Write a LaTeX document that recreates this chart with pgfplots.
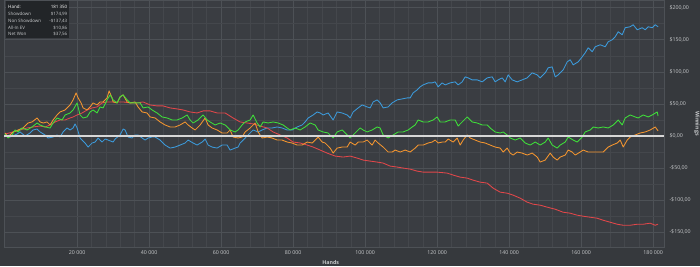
\documentclass[border=0pt]{standalone}
\usepackage{pgfplots}
\pgfplotsset{compat=1.18}
\usepackage{fontspec}
\setmainfont{Open Sans}
\definecolor{bgc}{HTML}{36393D}
\definecolor{plotc}{HTML}{3A3D42}
\definecolor{gridmaj}{HTML}{4D5156}
\definecolor{gridmin}{HTML}{44474C}
\definecolor{txt}{HTML}{C8CACC}
\definecolor{sdblue}{HTML}{3C9BDC}
\definecolor{nsdred}{HTML}{E2474A}
\definecolor{evorange}{HTML}{F5962F}
\definecolor{netgreen}{HTML}{3FE03A}
\definecolor{boxc}{HTML}{222528}
\begin{document}
\begin{tikzpicture}[x=1bp,y=1bp]
\fill[bgc] (0,0) rectangle (700,266);
\path[use as bounding box] (0,0) rectangle (700,266);
\begin{axis}[
  at={(4bp,19bp)}, anchor=south west,
  scale only axis, width=660bp, height=247bp,
  xmin=-0.3, xmax=183, ymin=-173, ymax=212,
  axis background/.style={fill=plotc},
  axis line style={gridmaj},
  grid=both,
  major grid style={gridmaj, line width=0.6bp},
  minor grid style={gridmin, line width=0.5bp},
  xtick={20,40,60,80,100,120,140,160,180},
  xticklabels={20 000,40 000,60 000,80 000,100 000,120 000,140 000,160 000,180 000},
  minor x tick num=4,
  ytick={-150,-100,-50,0,50,100,150,200},
  yticklabels={{-\$150,00},{-\$100,00},{-\$50,00},{\$0,00},{\$50,00},{\$100,00},{\$150,00},{\$200,00}},
  minor y tick num=1,
  yticklabel pos=right,
  tick style={draw=none},
  ticklabel style={font=\fontsize{5.3}{6}\selectfont, text=txt},
  yticklabel style={xshift=2bp},
  xlabel={Hands}, ylabel={Winnings},
  label style={font=\fontsize{5.3}{6}\selectfont\bfseries, text=txt},
  xlabel style={at={(axis description cs:0.495,0)}, anchor=center, yshift=-16bp},
  ylabel style={at={(axis description cs:1.05,0.5)}, anchor=center, rotate=180},
  clip=true,
]
% Showdown (blue)
\addplot[sdblue, line width=0.85bp, line join=round] coordinates {
(0,1.6) (1.39,-1.6) (3.33,3.1) (4.17,6.3) (5.56,0) (6.94,4.7) (7.78,9.4) (8.89,10.9) (9.72,6.3) (11.11,1.6)
(11.94,-3.1) (13.33,-1.6) (14.44,1.6) (15.28,-1.6) (16.11,6.3) (17.22,12.5) (18.06,9.4) (18.89,12.5) (19.44,18.8) (20.0,12.5)
(20.83,-3.1) (22.22,-10.9) (23.06,-17.2) (24.17,-10.9) (25.0,-9.4) (25.83,-3.1) (26.94,-9.4) (27.78,-4.7) (28.61,-6.3) (30.0,-9.4)
(30.56,-4.7) (31.94,1.6) (32.78,10.9) (33.33,9.4) (34.17,-1.6) (35.28,-3.1) (36.11,1.6) (36.94,1.6) (38.06,-3.1) (38.89,-6.3)
(39.72,-3.1) (40.83,-1.6) (41.67,-1.6) (43.06,-6.3) (44.44,-14.1) (45.83,-18.8) (47.22,-17.2) (48.61,-14.1) (50.0,-10.9) (50.83,-6.3)
(52.22,-10.9) (53.33,-14.1) (54.72,-9.4) (55.56,-4.7) (56.39,-14.1) (57.5,-17.2) (58.89,-18.8) (60.28,-14.1) (61.67,-14.1) (62.5,-21.9)
(63.89,-18.8) (64.72,-17.2) (65.28,-10.9) (66.11,-6.3) (67.22,0) (68.06,4.7) (68.89,9.4) (70.28,6.3) (71.39,9.4) (72.78,12.5)
(74.17,12.5) (75.56,14.1) (76.94,12.5) (78.33,9.4) (79.72,9.4) (81.11,14.1) (82.5,17.2) (83.33,21.9) (84.17,28.1) (85.56,32.8)
(86.67,37.5) (87.5,35.9) (88.33,32.8) (89.72,35.9) (91.11,25) (92.22,37.5) (93.61,35.9) (95.0,32.8) (95.83,28.1) (96.67,37.5)
(98.06,43.8) (99.17,48.4) (100.56,45.3) (101.39,43.8) (102.22,53.1) (103.33,56.3) (104.17,51.6) (105.0,43.8) (106.39,45.3) (107.5,51.6)
(108.89,56.3) (110.28,57.8) (111.67,59.4) (112.5,59.4) (113.33,67.2) (114.44,71.9) (115.28,76.6) (116.11,79.7) (117.5,82.8) (118.61,82.8)
(119.44,84.4) (120.28,76.6) (121.39,82.8) (122.22,79.7) (123.61,82.8) (125.0,84.4) (125.83,79.7) (126.94,84.4) (127.78,92.2) (128.61,90.6)
(129.72,87.5) (131.11,87.5) (132.5,84.4) (133.89,90.6) (135.28,92.2) (136.11,84.4) (136.94,87.5) (138.06,90.6) (138.89,84.4) (139.72,95.3)
(140.83,87.5) (142.22,84.4) (143.61,87.5) (145.0,90.6) (146.39,98.4) (147.78,95.3) (148.61,90.6) (150.0,98.4) (150.83,106.3) (151.94,107.8)
(152.78,92.2) (153.61,95.3) (155.0,103.1) (156.11,115.6) (156.94,118.8) (157.78,110.9) (159.17,115.6) (160.28,123.4) (161.11,129.7) (161.94,137.5)
(163.06,131.3) (163.89,139.1) (165.28,142.2) (166.67,139.1) (167.5,146.9) (168.61,150) (169.44,154.7) (170.28,162.5) (171.39,157.8) (172.22,168.8)
(173.61,170.3) (174.44,173.4) (175.56,165.6) (176.94,168.8) (177.78,165.6) (178.61,170.3) (179.72,168.8) (180.56,173.4) (181.35,170.3)
};
% Non Showdown (red)
\addplot[nsdred, line width=0.85bp, line join=round] coordinates {
(0,3.1) (2.22,6.3) (4.17,9.4) (6.11,12.5) (7.78,14.1) (9.72,15.6) (11.11,14.1) (12.5,17.2) (13.89,21.9) (15.28,25)
(16.67,25) (18.06,28.1) (18.89,29.7) (20.0,32.8) (21.39,35.9) (22.78,40.6) (24.17,43.8) (25.56,45.3) (26.94,51.6) (28.33,53.1)
(31.11,53.1) (32.78,53.1) (34.72,51.6) (36.67,51.6) (38.33,53.1) (40.28,48.4) (42.22,46.9) (43.89,46.9) (45.83,43.8) (47.78,42.2)
(49.44,40.6) (51.39,37.5) (53.33,35.9) (55.0,39.1) (56.94,39.1) (58.89,35.9) (61.11,35.9) (63.33,28.1) (65.28,21.9) (67.22,20.3)
(68.89,18.8) (70.83,15.6) (72.78,12.5) (74.44,6.3) (76.39,1.6) (78.33,-3.1) (80.0,-9.4) (81.94,-10.9) (83.89,-14.1) (85.56,-17.2)
(87.5,-21.9) (89.44,-26.6) (91.67,-31.3) (93.89,-32.8) (95.83,-31.3) (97.78,-34.4) (99.44,-37.5) (101.39,-39.1) (103.33,-40.6) (105.0,-42.2)
(106.94,-46.9) (108.89,-48.4) (110.56,-50) (112.5,-51.6) (114.44,-54.7) (116.11,-56.3) (118.06,-56.3) (120.0,-56.3) (122.78,-57.8) (124.44,-60.9)
(126.39,-64.1) (128.33,-65.6) (130.0,-68.8) (131.94,-71.9) (133.89,-73.4) (135.56,-81.3) (137.5,-87.5) (139.44,-89.1) (141.11,-92.2) (143.06,-96.9)
(145.0,-103.1) (146.67,-106.3) (148.61,-107.8) (150.56,-110.9) (152.78,-114.1) (155.0,-118.8) (156.94,-120.3) (158.89,-123.4) (160.56,-125) (162.5,-126.6)
(164.44,-128.1) (166.11,-131.3) (168.06,-134.4) (170.0,-137.5) (171.67,-139.1) (173.61,-139.1) (175.56,-137.5) (177.22,-137.5) (179.17,-135.9) (180.56,-139.1)
(181.35,-137.4)
};
% All-in EV (orange)
\addplot[evorange, line width=0.85bp, line join=round] coordinates {
(0,4.7) (0.83,-1.6) (2.22,6.3) (3.61,9.4) (5.0,12.5) (6.39,20.3) (7.5,21.9) (8.89,28.1) (9.72,21.9) (10.56,20.3)
(11.67,21.9) (12.5,17.2) (13.33,25) (14.44,32.8) (15.28,37.5) (16.67,40.6) (18.06,48.4) (18.89,56.3) (19.72,67.2) (20.28,59.4)
(21.11,51.6) (21.67,43.8) (22.78,40.6) (23.61,45.3) (24.44,51.6) (25.56,48.4) (26.39,53.1) (27.22,53.1) (28.33,59.4) (28.89,70.3)
(29.72,59.4) (30.0,53.1) (31.11,51.6) (31.94,60.9) (32.78,64.1) (33.89,53.1) (34.72,51.6) (36.11,53.1) (36.94,45.3) (38.06,37.5)
(39.44,35.9) (40.28,29.7) (41.67,28.1) (43.06,21.9) (44.44,17.2) (45.83,14.1) (47.22,14.1) (48.61,17.2) (50.0,21.9) (50.83,17.2)
(51.94,12.5) (52.78,9.4) (54.17,17.2) (55.56,28.1) (56.39,17.2) (57.5,12.5) (58.89,9.4) (60.28,4.7) (61.67,4.7) (62.5,9.4)
(63.33,-1.6) (64.72,-3.1) (65.83,-1.6) (66.67,6.3) (68.06,12.5) (69.44,20.3) (70.28,6.3) (71.39,-3.1) (72.78,-1.6) (74.17,-3.1)
(75.56,-6.3) (76.94,-6.3) (78.33,-9.4) (79.72,-10.9) (81.11,-14.1) (82.5,-14.1) (83.89,-9.4) (85.28,-10.9) (86.11,-6.3) (86.94,-1.6)
(88.06,-9.4) (88.89,-10.9) (90.28,-18.8) (91.11,-26.6) (92.22,-18.8) (93.61,-17.2) (95.0,-17.2) (95.83,-9.4) (97.22,-14.1) (98.06,-9.4)
(99.44,-9.4) (100.56,-6.3) (101.94,-14.1) (102.78,-6.3) (103.61,-10.9) (105.0,-17.2) (106.39,-25) (107.5,-25) (108.33,-21.9) (109.72,-25)
(111.11,-21.9) (112.5,-25) (113.89,-18.8) (114.72,-14.1) (116.11,-14.1) (117.5,-10.9) (118.61,-9.4) (119.44,-6.3) (120.28,-10.9) (121.39,-9.4)
(122.22,-9.4) (123.06,-4.7) (124.44,-9.4) (125.56,-3.1) (126.39,-14.1) (127.22,-6.3) (128.33,1.6) (129.17,-3.1) (130.56,-6.3) (131.94,-9.4)
(133.33,-10.9) (134.72,-14.1) (136.11,-17.2) (137.5,-18.8) (138.33,-25) (139.44,-18.8) (140.28,-26.6) (141.11,-29.7) (142.22,-25) (143.61,-26.6)
(145.0,-29.7) (146.39,-26.6) (147.78,-32.8) (148.61,-40.6) (150.0,-37.5) (151.39,-26.6) (152.22,-32.8) (153.33,-37.5) (154.17,-32.8) (155.56,-29.7)
(156.39,-21.9) (157.5,-25) (158.33,-29.7) (159.72,-25) (160.56,-21.9) (161.94,-25) (163.33,-25) (164.72,-25) (166.11,-25) (167.5,-17.2)
(168.61,-14.1) (170.0,-10.9) (170.83,-6.3) (171.67,-17.2) (172.78,-6.3) (173.61,-1.6) (175.0,1.6) (176.39,4.7) (177.78,6.3) (179.17,9.4)
(180.56,14.1) (181.35,8.0)
};
% Net Won (green)
\addplot[netgreen, line width=0.85bp, line join=round] coordinates {
(0,3.1) (0.83,-3.1) (1.94,1.6) (2.78,9.4) (3.61,6.3) (4.72,12.5) (6.11,9.4) (7.5,14.1) (8.89,20.3) (9.72,17.2)
(11.11,14.1) (12.5,12.5) (13.33,20.3) (14.44,28.1) (15.83,25) (16.67,32.8) (18.06,35.9) (18.89,40.6) (20.0,51.6) (20.83,32.8)
(21.67,28.1) (22.78,29.7) (23.61,37.5) (24.44,40.6) (25.56,35.9) (26.39,45.3) (27.22,43.8) (28.33,56.3) (29.17,64.1) (30.0,56.3)
(31.11,51.6) (31.94,60.9) (32.78,64.1) (33.89,56.3) (34.72,51.6) (36.11,51.6) (37.5,51.6) (38.33,43.8) (39.72,45.3) (40.83,40.6)
(42.22,35.9) (43.61,29.7) (45.0,28.1) (46.39,25) (47.78,25) (49.17,28.1) (50.56,32.8) (51.39,25) (52.22,20.3) (53.61,25)
(55.0,32.8) (56.11,25) (56.94,21.9) (58.33,17.2) (59.72,20.3) (61.11,17.2) (61.67,14.1) (62.5,9.4) (63.89,6.3) (64.72,9.4)
(65.83,17.2) (66.67,21.9) (68.06,25) (68.89,32.8) (70.0,20.3) (70.83,14.1) (71.67,21.9) (73.06,20.3) (74.44,21.9) (75.83,20.3)
(77.22,17.2) (78.33,12.5) (79.17,9.4) (80.56,12.5) (81.94,9.4) (83.33,14.1) (84.72,20.3) (86.11,17.2) (86.94,9.4) (88.33,6.3)
(89.72,4.7) (91.11,-3.1) (92.22,6.3) (93.61,9.4) (95.0,1.6) (95.83,-3.1) (97.22,4.7) (98.61,12.5) (99.44,9.4) (100.56,6.3)
(101.94,9.4) (103.33,14.1) (104.17,12.5) (105.0,1.6) (106.39,-3.1) (107.78,1.6) (109.17,6.3) (110.56,6.3) (111.94,9.4) (113.06,14.1)
(113.89,17.2) (114.72,25) (116.11,21.9) (117.5,21.9) (118.89,25) (120.0,29.7) (120.83,21.9) (122.22,21.9) (123.61,25) (125.0,25)
(125.83,15.6) (126.94,21.9) (128.33,29.7) (129.72,21.9) (131.11,20.3) (132.5,17.2) (133.89,17.2) (134.72,12.5) (136.11,6.3) (137.5,4.7)
(138.33,6.3) (139.44,1.6) (140.28,-3.1) (141.67,-6.3) (143.06,-3.1) (144.44,-10.9) (145.83,-14.1) (147.22,-9.4) (148.61,-14.1) (150.0,-9.4)
(150.83,-3.1) (151.94,-14.1) (153.33,-18.8) (154.17,-14.1) (155.56,-9.4) (156.39,-1.6) (157.78,-6.3) (158.89,-9.4) (160.28,-1.6) (161.11,6.3)
(162.5,9.4) (163.33,14.1) (164.72,12.5) (166.11,14.1) (167.5,12.5) (168.89,17.2) (170.28,25) (171.39,17.2) (172.22,28.1) (173.61,32.8)
(175.0,29.7) (175.83,28.1) (177.22,32.8) (178.61,29.7) (179.72,32.8) (181.11,37.5) (181.35,31.3)
};
% zero line
\addplot[color={rgb,255:red,215;green,215;blue,215}, line width=1.8bp] coordinates {(-0.3,0) (183,0)};
\end{axis}
% summary box
\fill[boxc] (6,228.3) rectangle (69.3,265);
\begin{scope}[every node/.style={inner sep=0pt, font=\fontsize{4.5}{5}\selectfont}]
\node[anchor=west, text=white] at (8,259.3) {Hand:};
\node[anchor=east, text=white] at (67.5,259.3) {181 350};
\node[anchor=west, text=txt] at (8,251.8) {Showdown};
\node[anchor=east, text=txt] at (67.5,251.8) {\$174,99};
\node[anchor=west, text=txt] at (8,245) {Non Showdown};
\node[anchor=east, text=txt] at (67.5,245) {-\$137,43};
\node[anchor=west, text=txt] at (8,238.3) {All-In EV};
\node[anchor=east, text=txt] at (67.5,238.3) {\$10,86};
\node[anchor=west, text=txt] at (8,231.7) {Net Won};
\node[anchor=east, text=txt] at (67.5,231.7) {\$37,56};
\end{scope}
\end{tikzpicture}
\end{document}
